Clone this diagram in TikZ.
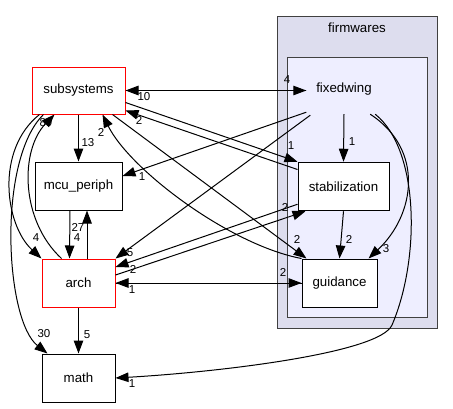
\documentclass[tikz,border=0pt]{standalone}
\usepackage{fontspec}
\setmainfont{Liberation Sans}
\usetikzlibrary{arrows.meta,calc}

\definecolor{outerbg}{HTML}{DDDDEE}
\definecolor{innerbg}{HTML}{EEEEFF}
\definecolor{frame}{HTML}{404040}

\tikzset{
  dirbox/.style={draw=black, fill=white, line width=1pt, inner sep=0pt,
    font=\fontsize{13.3}{16}\selectfont},
  redbox/.style={dirbox, draw=red},
  plainlabel/.style={inner sep=0pt, font=\fontsize{13.3}{16}\selectfont},
  edge/.style={line width=1pt, -{Triangle[length=13pt,width=9.5pt]}},
  lbl/.style={inner sep=0pt, font=\fontsize{11.5}{14}\selectfont},
  cluster/.style={draw=frame, line width=1pt}
}

\begin{document}
\begin{tikzpicture}[x=1pt,y=-1pt]
\useasboundingbox[fill=white] (0,0) rectangle (453,408);

% directory clusters
\draw[cluster, fill=outerbg] (277,16) rectangle (437,328);
\node[plainlabel] (firmwares) at (357,28) {firmwares};
\draw[cluster, fill=innerbg] (287,57) rectangle (427,317);

% directories
\node[redbox, minimum width=93pt, minimum height=47pt] (subsystems) at (78.5,90.5) {subsystems};
\node[dirbox, minimum width=87pt, minimum height=48pt] (mcu) at (78.5,186) {mcu\_periph};
\node[redbox, minimum width=73pt, minimum height=48pt] (arch) at (78.5,283) {arch};
\node[dirbox, minimum width=73pt, minimum height=48pt] (math) at (78.5,378) {math};
\node[plainlabel, minimum width=75pt, minimum height=50pt] (fixedwing) at (344,89) {fixedwing};
\node[dirbox, minimum width=91pt, minimum height=48.5pt] (stab) at (343.5,186.5) {stabilization};
\node[dirbox, minimum width=75pt, minimum height=48pt] (guidance) at (339.5,283) {guidance};

% dependencies
\draw[edge] (fixedwing.west |- subsystems.east) -- (subsystems.east);
\draw[edge] (subsystems.east) -- (fixedwing.west |- subsystems.east);
\draw[edge] (subsystems.south) -- (mcu.north);
\draw[edge] ($(subsystems.east)+(0,12)$) -- (stab.north west);
\draw[edge] ($(stab.west)+(0,-17)$) -- ($(subsystems.east)+(0,20)$);
\draw[edge] ($(subsystems.south east)+(-13,0)$) -- ($(guidance.north west)+(5,0)$);
\draw[edge] (guidance.north west) .. controls (230,245) and (130,170) .. ($(subsystems.south)+(24,0)$);
\draw[edge] ($(subsystems.south west)+(8,0)$) .. controls (-5,150) and (5,225) .. (arch.north west);
\draw[edge] ($(subsystems.south west)+(12,0)$) .. controls (-3,160) and (5,320) .. ($(math.north west)+(6,0)$);
\draw[edge] ($(arch.north west)+(20,0)$) .. controls (20,220) and (20,150) .. ($(subsystems.south west)+(23,0)$);
\draw[edge] ($(mcu.south)+(-8.5,0)$) -- ($(arch.north)+(-9,0)$);
\draw[edge] ($(arch.north)+(8.5,0)$) -- ($(mcu.south)+(8.5,0)$);
\draw[edge] (arch.south) -- (math.north);
\draw[edge] ($(fixedwing.south west)+(0,-2)$) -- ($(mcu.east)+(0,-10)$);
\draw[edge] ($(fixedwing.south west)+(4,1)$) -- (arch.north east);
\draw[edge] ($(stab.south west)+(0,-7)$) -- ($(arch.east)+(0,-16)$);
\draw[edge] ($(arch.east)+(0,-8)$) -- ($(stab.south west)+(8,0)$);
\draw[edge] (arch.east) -- (guidance.west);
\draw[edge] (guidance.west) -- (arch.east);
\draw[edge] (fixedwing.south) -- (stab.north);
\draw[edge] ($(fixedwing.south east)+(-11.5,0)$) .. controls (425,150) and (415,215) .. ($(guidance.north east)+(-9,0)$);
\draw[edge] ($(fixedwing.south east)+(-6.5,0)$) .. controls (420,150) and (420,260) .. (392,325)
  .. controls (380,353) and (220,372) .. (math.east);
\draw[edge] (stab.south) -- (guidance.north);

% dependency counts
\node[lbl] (n-fw-sub) at (144,97) {10};
\node[lbl] (n-sub-fw) at (287,80) {4};
\node[lbl] (n-sub-mcu) at (88,143) {13};
\node[lbl] (n-sub-stab) at (291,146) {1};
\node[lbl] (n-stab-sub) at (139,120) {2};
\node[lbl] (n-sub-guid) at (297,239) {2};
\node[lbl] (n-guid-sub) at (101,132) {2};
\node[lbl] (n-sub-arch) at (36,238) {4};
\node[lbl] (n-sub-math) at (44,334) {30};
\node[lbl] (n-arch-sub) at (46,123) {89};
\node[lbl] (n-mcu-arch) at (77,238) {4};
\node[lbl] (n-arch-mcu) at (78,227) {27};
\node[lbl] (n-arch-math) at (87,335) {5};
\node[lbl] (n-fw-mcu) at (142,177) {1};
\node[lbl] (n-fw-arch) at (130,253) {5};
\node[lbl] (n-stab-arch) at (133,269) {2};
\node[lbl] (n-arch-stab) at (285,207) {2};
\node[lbl] (n-arch-guid) at (283,272) {2};
\node[lbl] (n-guid-arch) at (132,290) {1};
\node[lbl] (n-fw-stab) at (352,142) {1};
\node[lbl] (n-fw-guid) at (386,249) {3};
\node[lbl] (n-fw-math) at (132,384) {1};
\node[lbl] (n-stab-guid) at (349,239) {2};
\end{tikzpicture}
\end{document}
